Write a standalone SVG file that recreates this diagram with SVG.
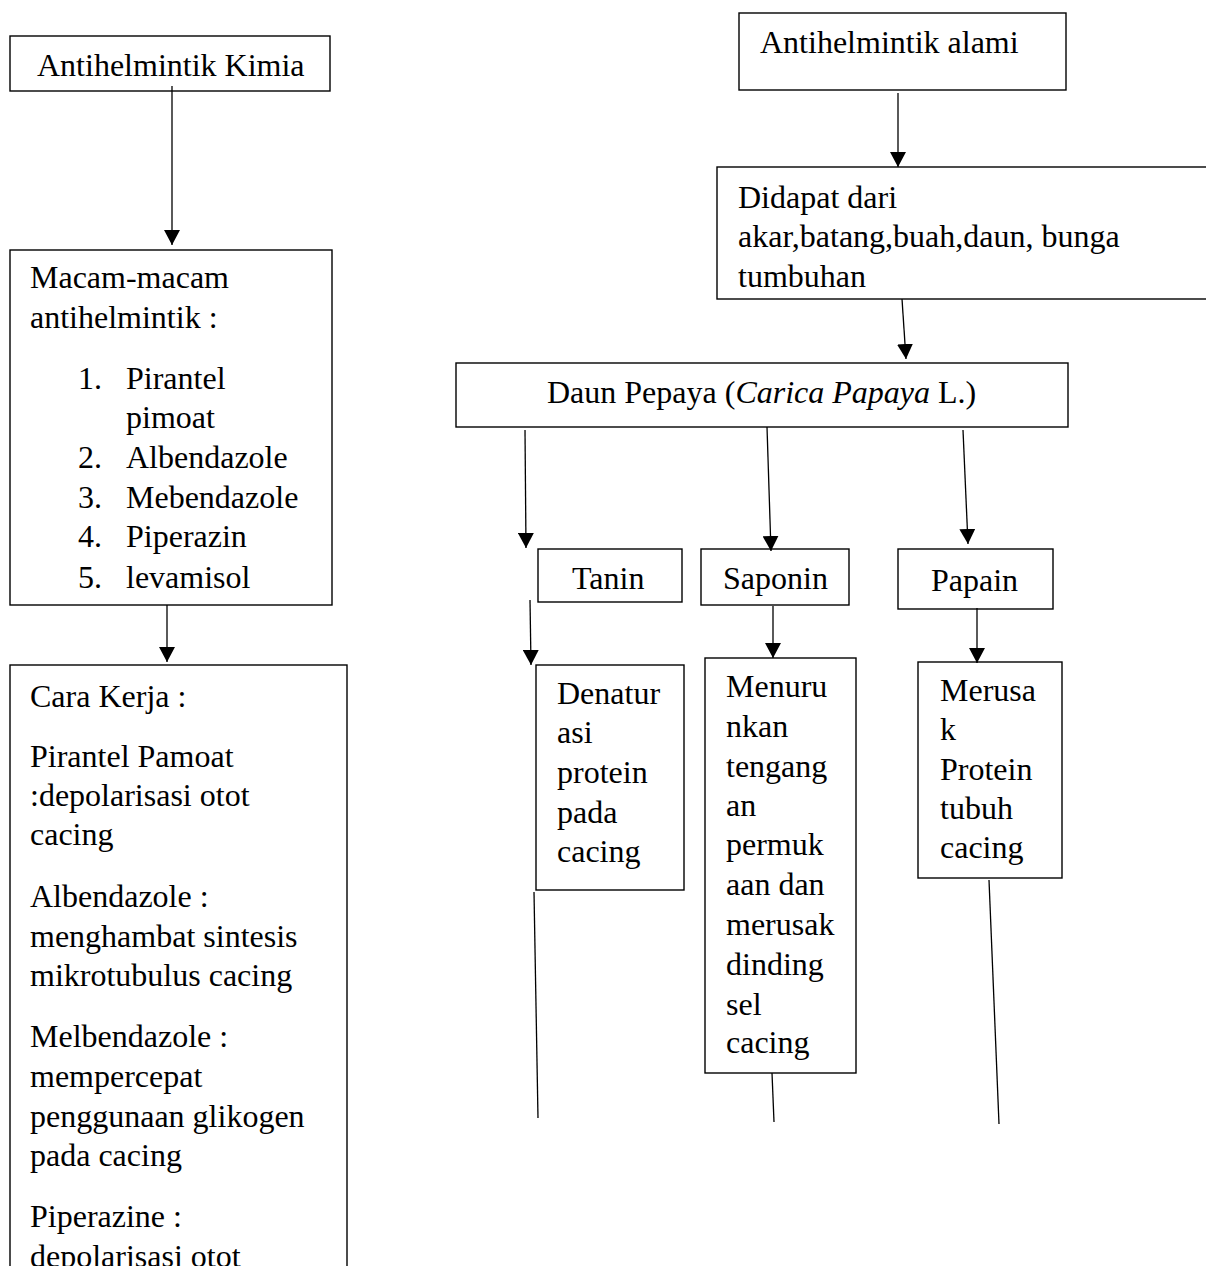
<svg xmlns="http://www.w3.org/2000/svg" width="1206" height="1266" viewBox="0 0 1206 1266">
<style>
  .box { fill: #ffffff; stroke: #000000; stroke-width: 1.4; }
  .t { font-family: "Liberation Serif", "Times New Roman", serif; font-size: 32px; fill: #000000; }
  .i { font-style: italic; }
  .c { stroke: #000000; stroke-width: 1.3; fill: none; }
</style>
<defs>
  <marker id="ah" markerWidth="16" markerHeight="16" refX="15" refY="8" orient="auto" markerUnits="userSpaceOnUse">
    <path d="M0,0 L15,8 L0,16 Z" fill="#000000"/>
  </marker>
</defs>
<rect x="0" y="0" width="1206" height="1266" fill="#ffffff"/>

<g id="kimia">
  <rect class="box" x="10" y="36" width="320" height="55"/>
  <text class="t" x="37" y="76">Antihelmintik Kimia</text>
</g>

<g id="macam">
  <rect class="box" x="10" y="250" width="322" height="355"/>
  <text class="t" x="30" y="288">Macam-macam</text>
  <text class="t" x="30" y="328">antihelmintik :</text>
  <text class="t" x="78" y="389">1.</text><text class="t" x="126" y="389">Pirantel</text>
  <text class="t" x="126" y="428">pimoat</text>
  <text class="t" x="78" y="468">2.</text><text class="t" x="126" y="468">Albendazole</text>
  <text class="t" x="78" y="508">3.</text><text class="t" x="126" y="508">Mebendazole</text>
  <text class="t" x="78" y="547">4.</text><text class="t" x="126" y="547">Piperazin</text>
  <text class="t" x="78" y="588">5.</text><text class="t" x="126" y="588">levamisol</text>
</g>

<g id="carakerja">
  <rect class="box" x="10" y="665" width="337" height="640"/>
  <text class="t" x="30" y="707">Cara Kerja :</text>
  <text class="t" x="30" y="767">Pirantel Pamoat</text>
  <text class="t" x="30" y="806">:depolarisasi otot</text>
  <text class="t" x="30" y="845">cacing</text>
  <text class="t" x="30" y="907">Albendazole :</text>
  <text class="t" x="30" y="947">menghambat sintesis</text>
  <text class="t" x="30" y="986">mikrotubulus cacing</text>
  <text class="t" x="30" y="1047">Melbendazole :</text>
  <text class="t" x="30" y="1087">mempercepat</text>
  <text class="t" x="30" y="1127">penggunaan glikogen</text>
  <text class="t" x="30" y="1166">pada cacing</text>
  <text class="t" x="30" y="1227">Piperazine :</text>
  <text class="t" x="30" y="1267">depolarisasi otot</text>
</g>

<g id="alami">
  <rect class="box" x="739" y="13" width="327" height="77"/>
  <text class="t" x="760" y="53">Antihelmintik alami</text>
</g>

<g id="didapat">
  <rect class="box" x="717" y="167" width="520" height="132"/>
  <text class="t" x="738" y="208">Didapat dari</text>
  <text class="t" x="738" y="247">akar,batang,buah,daun, bunga</text>
  <text class="t" x="738" y="287">tumbuhan</text>
</g>

<g id="daunpepaya">
  <rect class="box" x="456" y="363" width="612" height="64"/>
  <text class="t" x="547" y="403">Daun Pepaya (<tspan class="i">Carica Papaya</tspan> L.)</text>
</g>

<g id="tanin">
  <rect class="box" x="538" y="549" width="144" height="53"/>
  <text class="t" x="572" y="589">Tanin</text>
</g>

<g id="saponin">
  <rect class="box" x="701" y="549" width="148" height="56"/>
  <text class="t" x="723" y="589">Saponin</text>
</g>

<g id="papain">
  <rect class="box" x="898" y="549" width="155" height="60"/>
  <text class="t" x="931" y="591">Papain</text>
</g>

<g id="denaturasi">
  <rect class="box" x="536" y="665" width="148" height="225"/>
  <text class="t" x="557" y="704">Denatur</text>
  <text class="t" x="557" y="743">asi</text>
  <text class="t" x="557" y="783">protein</text>
  <text class="t" x="557" y="823">pada</text>
  <text class="t" x="557" y="862">cacing</text>
</g>

<g id="menurunkan">
  <rect class="box" x="705" y="658" width="151" height="415"/>
  <text class="t" x="726" y="697">Menuru</text>
  <text class="t" x="726" y="737">nkan</text>
  <text class="t" x="726" y="777">tengang</text>
  <text class="t" x="726" y="816">an</text>
  <text class="t" x="726" y="855">permuk</text>
  <text class="t" x="726" y="895">aan dan</text>
  <text class="t" x="726" y="935">merusak</text>
  <text class="t" x="726" y="975">dinding</text>
  <text class="t" x="726" y="1015">sel</text>
  <text class="t" x="726" y="1053">cacing</text>
</g>

<g id="merusak">
  <rect class="box" x="918" y="662" width="144" height="216"/>
  <text class="t" x="940" y="701">Merusa</text>
  <text class="t" x="940" y="740">k</text>
  <text class="t" x="940" y="780">Protein</text>
  <text class="t" x="940" y="819">tubuh</text>
  <text class="t" x="940" y="858">cacing</text>
</g>

<g id="connectors">
  <line class="c" x1="172" y1="86" x2="172" y2="245" marker-end="url(#ah)"/>
  <line class="c" x1="167" y1="605" x2="167" y2="662" marker-end="url(#ah)"/>
  <line class="c" x1="898" y1="93" x2="898" y2="167" marker-end="url(#ah)"/>
  <line class="c" x1="902" y1="299" x2="906" y2="359" marker-end="url(#ah)"/>
  <line class="c" x1="525" y1="430" x2="526" y2="548" marker-end="url(#ah)"/>
  <line class="c" x1="767" y1="427" x2="771" y2="551" marker-end="url(#ah)"/>
  <line class="c" x1="963" y1="430" x2="968" y2="544" marker-end="url(#ah)"/>
  <line class="c" x1="530" y1="600" x2="531" y2="665" marker-end="url(#ah)"/>
  <line class="c" x1="773" y1="606" x2="773" y2="658" marker-end="url(#ah)"/>
  <line class="c" x1="977" y1="608" x2="977" y2="663" marker-end="url(#ah)"/>
  <line class="c" x1="534" y1="892" x2="538" y2="1118"/>
  <line class="c" x1="772" y1="1073" x2="774" y2="1122"/>
  <line class="c" x1="989" y1="880" x2="999" y2="1124"/>
</g>
</svg>
